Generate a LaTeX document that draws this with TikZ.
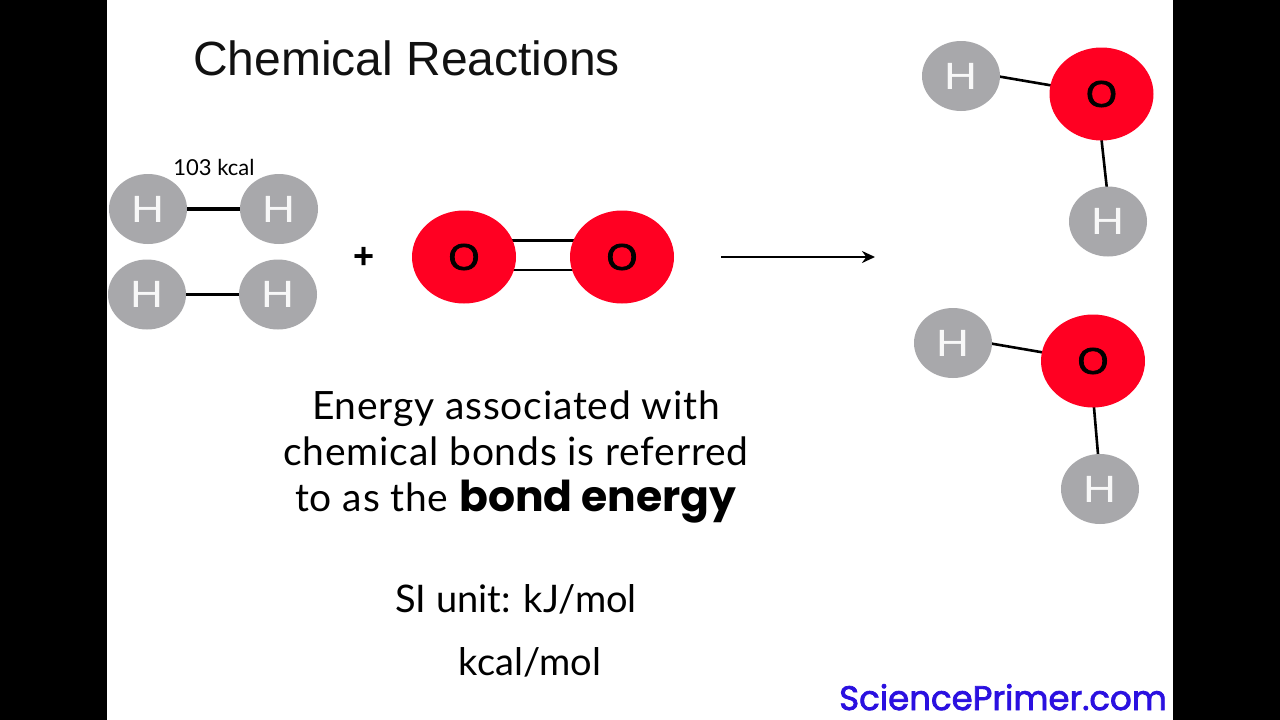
\documentclass[tikz,border=0pt]{standalone}
\usepackage{fontspec}
\usepackage{xcolor}
\usepackage{tikz}
\usetikzlibrary{arrows.meta,shapes.geometric,backgrounds}
\setmainfont{Lato}
\newfontfamily\headfont{Liberation Sans}
\newfontfamily\atomfont[FakeStretch=1.2]{Liberation Sans}
\newfontfamily\ringfont[FakeStretch=1.08,FakeBold=2.2]{Liberation Sans}
\newfontfamily\widefont{Poppins}
\newfontfamily\linkfont[FakeBold=2.2]{Poppins}
\definecolor{atomgray}{HTML}{A8A8AB}
\definecolor{atomred}{HTML}{FF0022}
\definecolor{linkblue}{HTML}{2A10E0}
\definecolor{titleink}{HTML}{111111}
\tikzset{
  hatom/.style={ellipse, fill=atomgray, text=white!92!atomgray, inner sep=0pt, outer sep=0pt, minimum width=78pt, minimum height=70pt, font=\atomfont\fontsize{38}{38}\selectfont},
  oatom/.style={ellipse, fill=atomred, text=black, inner sep=0pt, outer sep=0pt, minimum width=104pt, minimum height=93pt, font=\ringfont\fontsize{37}{37}\selectfont},
  bond/.style={draw=black, line width=2.6pt},
  arrow/.style={-{Stealth[length=13pt,width=12pt]}, line width=2.4pt, draw=black},
  bodytext/.style={align=center, inner sep=0pt, text=black, font=\fontsize{39}{46}\selectfont\addfontfeatures{LetterSpace=2}},
  unittext/.style={anchor=base, inner sep=0pt, text=black, font=\fontsize{38}{46}\selectfont}
}
\begin{document}
\begin{tikzpicture}[x=1pt,y=-1pt]
  \useasboundingbox (0,0) rectangle (1280,720);
  \fill[black] (0,0) rectangle (107,720);
  \fill[black] (1173,0) rectangle (1280,720);

  \node[anchor=base west, inner sep=0pt, text=titleink, font=\headfont\fontsize{48}{48}\selectfont] (title) at (193,75) {Chemical Reactions};

  % hydrogen on the left
  \node[hatom] (h1) at (148,209) {H};
  \node[hatom] (h2) at (279,209) {H};
  \node[hatom] (h3) at (147,294.5) {H};
  \node[hatom] (h4) at (278,294.5) {H};
  \node[anchor=base, inner sep=0pt, font=\fontsize{22}{22}\selectfont] (kcal) at (214,175) {103 kcal};
  \node[inner sep=0pt, font=\headfont\bfseries\fontsize{36}{36}\selectfont] (plus) at (364,258) {+};

  % oxygen
  \node[oatom] (o1) at (464,257) {O};
  \node[oatom] (o2) at (622,257) {O};
  \coordinate (arrowstart) at (721,257);
  \coordinate (arrowend) at (875,257);
  \draw[arrow] (arrowstart) -- (arrowend);

  % water
  \node[hatom] (h5) at (961,76) {H};
  \node[oatom] (o3) at (1101.5,94) {O};
  \node[hatom] (h6) at (1108,221.5) {H};
  \node[hatom] (h7) at (953,343) {H};
  \node[oatom] (o4) at (1093,361) {O};
  \node[hatom] (h8) at (1100,489) {H};

  \node[bodytext] (energy) at (516,457) {Energy associated with\\chemical bonds is referred\\to as the {\widefont\bfseries\fontsize{42.5}{46}\selectfont bond energy}};
  \node[unittext] (unit) at (516,612) {SI unit: kJ/mol};
  \node[unittext] (unit2) at (530,675) {kcal/mol};
  \node[anchor=base east, inner sep=0pt, text=linkblue, font=\linkfont\fontsize{34}{34}\selectfont] (link) at (1167,710) {SciencePrimer.com};

  \begin{scope}[on background layer]
    \fill[white] (107,0) rectangle (1173,720);
    \draw[bond, line width=3.2pt] (h1) -- (h2);
    \draw[bond] (h3) -- (h4);
    \draw[bond] ([yshift=16.5pt]o1.center) -- ([yshift=16.5pt]o2.center);
    \draw[bond] ([yshift=-13pt]o1.center) -- ([yshift=-13pt]o2.center);
    \draw[bond] ([yshift=6pt]h5.center) -- (o3.center);
    \draw[bond] ([xshift=-5pt]o3.center) -- ([xshift=2.5pt]h6.center);
    \draw[bond] ([yshift=6pt]h7.center) -- (o4.center);
    \draw[bond] ([xshift=-3pt]o4.center) -- ([xshift=1pt]h8.center);
  \end{scope}
\end{tikzpicture}
\end{document}
